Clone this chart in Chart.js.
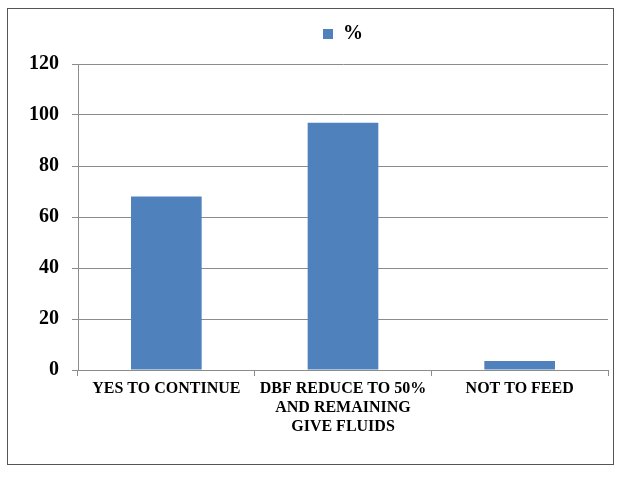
<!DOCTYPE html>
<html>
<head>
<meta charset="utf-8">
<script src="https://cdn.jsdelivr.net/npm/chart.js@4/dist/chart.umd.min.js"></script>
<style>
html,body{margin:0;padding:0;background:#fff;}
#wrap{position:absolute;left:0;top:0;width:622px;height:477px;}
</style>
</head>
<body>
<div id="wrap"><canvas id="c" width="622" height="477"></canvas></div>
<script>
const categories = [
  ['YES TO CONTINUE'],
  ['DBF REDUCE TO 50%', 'AND REMAINING', 'GIVE FLUIDS'],
  ['NOT TO FEED']
];
const seriesName = '%';
const values = [68, 97, 3.5];
const yTicks = [0, 20, 40, 60, 80, 100, 120];

const FONT = "'Liberation Serif', 'Times New Roman', serif";
const borderPlugin = {
  id: 'outerBorder',
  beforeDraw(chart) {
    const ctx = chart.ctx;
    ctx.save();
    ctx.fillStyle = '#fff';
    ctx.fillRect(0, 0, chart.width, chart.height);
    ctx.strokeStyle = '#555';
    ctx.lineWidth = 1;
    ctx.strokeRect(7.5, 8.5, 606, 456);
    ctx.restore();
  }
};

new Chart(document.getElementById('c'), {
  type: 'bar',
  data: {
    labels: categories,
    datasets: [{
      label: seriesName,
      data: values,
      backgroundColor: '#4f81bd',
      borderWidth: 0,
      categoryPercentage: 1,
      barPercentage: 0.4
    }]
  },
  options: {
    responsive: false,
    animation: false,
    layout: { padding: { left: 0, right: 14, top: 4, bottom: 0 } },
    plugins: {
      legend: {
        display: true,
        position: 'top',
        fullSize: false,
        labels: {
          color: '#000',
          boxWidth: 10,
          boxHeight: 10,
          padding: 20,
          font: { family: FONT, size: 20, weight: 'bold' }
        }
      },
      title: {
        display: true,
        text: '',
        position: 'top',
        weight: 500,
        fullSize: false,
        font: { size: 1, lineHeight: 1 },
        padding: { top: 0, bottom: 9 }
      },
      tooltip: { enabled: false }
    },
    scales: {
      x: {
        grid: { drawOnChartArea: false, drawTicks: true, tickLength: 6, color: '#8c8c8c', offset: true },
        border: { color: '#8c8c8c', width: 1 },
        ticks: {
          color: '#000',
          maxRotation: 0,
          autoSkip: false,
          padding: 3,
          font: { family: FONT, size: 16, weight: 'bold', lineHeight: 1.2 }
        },
        afterFit(scale) { scale.height = 107; }
      },
      y: {
        min: 0, max: 120,
        afterBuildTicks(scale) { scale.ticks = yTicks.map(v => ({ value: v })); },
        grid: { color: '#8c8c8c', tickLength: 6, lineWidth: 1 },
        border: { color: '#8c8c8c', width: 1 },
        ticks: {
          color: '#000',
          padding: 13,
          font: { family: FONT, size: 20, weight: 'bold' }
        },
        afterFit(scale) { scale.width = 78; }
      }
    }
  },
  plugins: [borderPlugin]
});
</script>
</body>
</html>
